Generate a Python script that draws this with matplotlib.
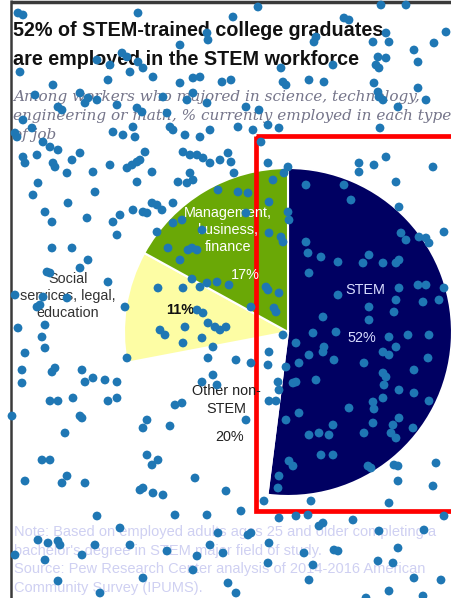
import matplotlib
matplotlib.use("Agg")
import matplotlib.pyplot as plt
from matplotlib.patches import Rectangle

# Share of STEM-trained college graduates by type of current job
categories = ["STEM", "Other non-\nSTEM", "Social\nservices, legal,\neducation", "Management,\nbusiness,\nfinance"]
shares = [52, 20, 11, 17]
slice_colors = ["#000062", "#ffffff", "#fdfda4", "#6aa806"]

title = "52% of STEM-trained college graduates\nare employed in the STEM workforce"
subtitle = ("Among workers who majored in science, technology,\n"
            "engineering or math, % currently employed in each type\n"
            "of job")
note = ("Note: Based on employed adults ages 25 and older completing a\n"
        "bachelor's degree in STEM major field of study.\n"
        "Source: Pew Research Center analysis of 2014-2016 American\n"
        "Community Survey (IPUMS).")

# Scattered dot overlay (pixel positions across the canvas)
dot_x = [18, 23, 138, 180, 207, 208, 122, 127, 110, 97, 138, 143, 130, 20, 108, 153, 180, 193, 200, 222,
         53, 80, 88, 97, 85, 35, 58, 62, 117, 137, 142, 163, 167, 187, 193, 207, 23, 32, 15, 17,
         113, 123, 133, 135, 170, 173, 185, 200, 210, 43, 50, 58, 145, 183, 190, 197, 23, 25, 37, 72,
         80, 53, 55, 110, 127, 132, 137, 140, 152, 67, 93, 203, 210, 220, 190, 193, 187, 178, 137, 38,
         95, 33, 218,
         258, 381, 406, 233, 344, 349, 316, 314, 386, 389, 373, 446, 434, 414, 418, 376, 379, 333, 378, 281,
         386, 283, 286, 309, 324, 374, 378, 379, 383, 418, 426, 398, 246, 259, 231, 268, 279, 238, 253, 380,
         261, 228, 231, 268, 288, 284, 273, 234, 238, 248, 306, 344, 359, 359, 374, 386, 396, 433,
         68, 45, 52, 87, 113, 120, 117, 133, 143, 147, 152, 157, 162, 173, 157, 173, 182, 202, 168, 188,
         197, 192, 180, 52, 72, 88, 80, 47, 50, 108, 192, 200, 207, 217, 158, 183, 43, 40, 37, 67,
         125, 15, 197, 203, 18, 45, 42, 45, 25, 160, 165, 185, 183, 202, 208, 215, 220, 213, 127, 208,
         22, 22, 52, 55, 82, 85, 93, 105, 117, 213, 202, 217,
         269, 288, 289, 246, 351, 399, 401, 406, 419, 426, 429, 444, 269, 281, 283, 306, 308, 321, 338, 363,
         369, 383, 396, 399, 309, 399, 418, 426, 444, 229, 266, 268, 279, 338, 396, 423, 439, 251, 274, 276,
         369, 394, 323, 369, 226, 336, 313, 283, 389, 408, 429, 296, 324, 323, 383, 389, 396, 269, 236, 251,
         268, 309, 299, 334, 364, 428, 286, 383, 386, 414, 296, 293, 316, 278, 279, 384, 399, 414,
         50, 58, 73, 108, 117, 12, 80, 82, 65, 147, 143, 170, 175, 182, 42, 50, 147, 152, 158, 25,
         67, 62, 85, 140, 143, 153, 163, 195, 97, 175, 207, 120, 38, 48, 58, 60, 95, 130, 218, 210,
         15, 45, 82, 167, 197, 223, 193, 143, 58, 100,
         269, 276, 246, 286, 299, 349, 373, 374, 383, 399, 393, 391, 396, 413, 429, 373, 364, 333, 329, 309,
         319, 321, 333, 289, 293, 279, 278, 368, 371, 394, 398, 398, 436, 433, 226, 264, 311, 389, 241, 279,
         296, 308, 353, 444, 319, 323, 248, 251, 269, 379, 424, 334, 338, 304, 398, 268, 313, 378, 393, 309,
         414, 441, 228, 236, 389, 366, 423]
dot_y = [13, 15, 13, 45, 33, 40, 53, 57, 65, 60, 62, 68, 72, 72, 80, 77, 83, 78, 77, 82,
         85, 93, 98, 100, 103, 95, 107, 110, 105, 108, 112, 97, 113, 100, 93, 103, 120, 128, 133, 137,
         132, 135, 127, 137, 127, 130, 135, 137, 130, 142, 147, 150, 152, 152, 155, 155, 157, 163, 155, 160,
         153, 163, 167, 165, 168, 165, 162, 160, 172, 173, 172, 158, 163, 160, 173, 180, 183, 182, 182, 183,
         192, 195, 190,
         7, 5, 5, 17, 18, 20, 37, 42, 33, 42, 42, 32, 43, 50, 62, 65, 68, 65, 57, 68,
         58, 82, 85, 80, 82, 83, 92, 97, 100, 88, 100, 107, 107, 110, 80, 125, 128, 127, 130, 128,
         142, 153, 162, 163, 167, 173, 180, 173, 192, 193, 185, 185, 163, 172, 165, 157, 182, 167,
         203, 212, 222, 218, 222, 215, 235, 210, 212, 213, 203, 205, 210, 203, 232, 223, 220, 230, 248, 250,
         250, 248, 260, 248, 248, 260, 268, 272, 273, 282, 279, 287, 283, 282, 288, 288, 297, 305, 307, 298,
         307, 295, 310, 313, 328, 325, 337, 348, 353, 330, 335, 327, 343, 338, 323, 327, 330, 347, 358, 358,
         370, 383, 372, 368, 370, 382, 378, 380, 382, 375, 382, 385,
         202, 212, 220, 213, 200, 207, 233, 240, 237, 238, 243, 232, 233, 237, 242, 242, 253, 257, 262, 263,
         255, 263, 263, 260, 273, 288, 285, 285, 288, 285, 287, 290, 293, 295, 300, 302, 300, 307, 308, 312,
         307, 312, 317, 320, 327, 332, 333, 335, 337, 335, 335, 343, 347, 352, 352, 355, 347, 352, 360, 363,
         365, 355, 363, 360, 363, 358, 367, 373, 377, 370, 382, 383, 380, 382, 390, 385, 390, 393,
         401, 401, 398, 401, 398, 416, 416, 418, 433, 420, 428, 426, 405, 403, 460, 460, 455, 465, 460, 481,
         476, 483, 483, 490, 488, 493, 495, 478, 516, 515, 515, 528, 540, 543, 541, 545, 545, 545, 533, 545,
         555, 560, 555, 551, 556, 553, 570, 578, 581, 593,
         401, 401, 420, 420, 413, 408, 402, 409, 398, 418, 425, 433, 438, 428, 401, 423, 433, 425, 435, 435,
         433, 455, 455, 461, 466, 476, 488, 466, 468, 465, 466, 481, 463, 486, 491, 501, 501, 503, 511, 518,
         516, 515, 520, 516, 526, 523, 535, 533, 543, 531, 530, 550, 551, 553, 548, 563, 565, 561, 563, 580,
         578, 580, 583, 593, 591, 598, 596]

W, H = 452, 598
fig = plt.figure(figsize=(W / 100, H / 100), dpi=100)
fig.patch.set_facecolor("white")

# Pie: centre (288, 332) px, radius 164 px
cx, cy, r = 288, 332, 164
pie_ax = fig.add_axes([(cx - r) / W, (H - cy - r) / H, 2 * r / W, 2 * r / H])
pie_ax.pie(shares, colors=slice_colors, startangle=90, counterclock=False, radius=1,
           wedgeprops=dict(edgecolor="white", linewidth=1.5))
pie_ax.set_xlim(-1, 1)
pie_ax.set_ylim(-1, 1)
pie_ax.set_axis_off()

# Overlay in pixel coordinates for text and decoration
ov = fig.add_axes([0, 0, 1, 1])
ov.set_xlim(0, W)
ov.set_ylim(H, 0)
ov.set_axis_off()
ov.patch.set_alpha(0)

sans = ["Liberation Sans", "DejaVu Sans"]

ov.text(13, 45, title, fontsize=14.2, fontweight="bold", family=sans, color="#111111",
        va="center", ha="left", linespacing=1.68)
ov.text(13, 116, subtitle, fontsize=11, style="italic", family=["DejaVu Serif"],
        color="#75758a", va="center", ha="left", linespacing=1.5)
ov.text(14, 560, note, fontsize=10.5, family=sans, color="#cfd0f2",
        va="center", ha="left", linespacing=1.42)

lab = dict(family=sans, fontsize=10.4, ha="center", va="center", linespacing=1.3)
ov.text(365, 290, categories[0], color="#d8ddff", **lab)
ov.text(362, 338, f"{shares[0]}%", color="#d8ddff", **lab)
ov.text(226, 400, categories[1], color="#222222", **lab)
ov.text(230, 437, f"{shares[1]}%", color="#222222", **lab)
ov.text(68, 296, categories[2], color="#333333", **lab)
ov.text(180, 310, f"{shares[2]}%", color="#111111", fontweight="bold", **lab)
ov.text(228, 230, categories[3], color="white", **lab)
ov.text(245, 275, f"{shares[3]}%", color="white", **lab)

# Screen frame and highlight box
ov.plot([11, 11], [0, H], color="#3a3a3a", lw=1.8, solid_capstyle="butt")
ov.plot([11, W], [2, 2], color="#3a3a3a", lw=2.5, solid_capstyle="butt")
ov.add_patch(Rectangle((256, 136), 220, 375, fill=False, edgecolor="red", linewidth=3.4))

ov.scatter(dot_x, dot_y, s=40, color="#1f77b4", edgecolors="none", zorder=10)

fig.savefig("out.png", dpi=100)
